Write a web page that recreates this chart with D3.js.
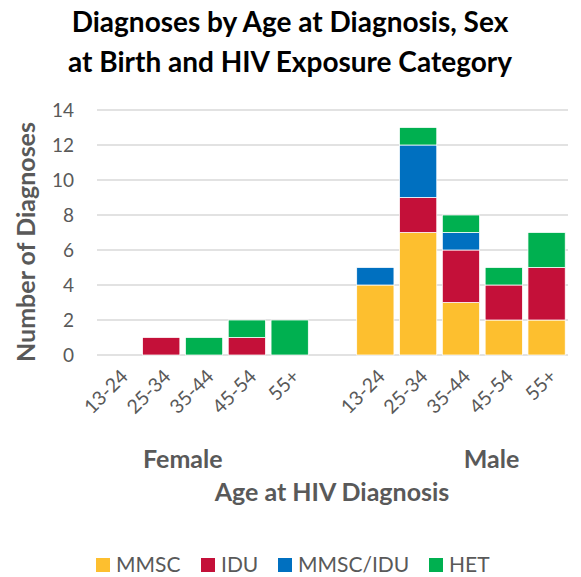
<!DOCTYPE html>
<html>
<head>
<meta charset="utf-8">
<script src="https://cdn.jsdelivr.net/npm/d3@7"></script>
<style>
  body { margin: 0; background: #fff; }
  svg text { font-family: "Lato", "Open Sans", sans-serif; }
</style>
</head>
<body>
<div id="chart"></div>
<script>
// chart data
var sexes = ["Female", "Male"];
var ageGroups = ["13-24", "25-34", "35-44", "45-54", "55+"];
var categories = ["MMSC", "IDU", "MMSC/IDU", "HET"];
var colors = ["#FDBF2F", "#C41039", "#0070C0", "#00B050"];

// values per sex, one row per age group: [MMSC, IDU, MMSC/IDU, HET]
var femaleValues = [
  [0, 0, 0, 0],
  [0, 1, 0, 0],
  [0, 0, 0, 1],
  [0, 1, 0, 1],
  [0, 0, 0, 2]
];
var maleValues = [
  [4, 0, 1, 0],
  [7, 2, 3, 1],
  [3, 3, 1, 1],
  [2, 2, 0, 1],
  [2, 3, 0, 2]
];
var yTicks = [0, 2, 4, 6, 8, 10, 12, 14];

var svgWidth = 581, svgHeight = 577;
var margin = {top: 110, right: 13, bottom: 222, left: 97};
var width = svgWidth - margin.left - margin.right;
var height = 355 - margin.top;

var svg = d3.select("#chart").append("svg")
  .attr("width", svgWidth)
  .attr("height", svgHeight);

// build rows for the stack (a blank slot sits between the two groups)
var rows = [];
[femaleValues, maleValues].forEach(function(vals, s) {
  vals.forEach(function(v, i) {
    var row = {key: sexes[s] + "|" + ageGroups[i], age: ageGroups[i], sex: sexes[s]};
    categories.forEach(function(c, j) { row[c] = v[j]; });
    rows.push(row);
  });
});
var domain = rows.slice(0, 5).map(d => d.key).concat(["gap"]).concat(rows.slice(5).map(d => d.key));

var x = d3.scaleBand()
  .domain(domain)
  .range([0, width])
  .paddingInner(0.13)
  .paddingOuter(0.065);

var y = d3.scaleLinear()
  .domain([0, 14])
  .range([height, 0]);

var color = d3.scaleOrdinal().domain(categories).range(colors);

var chartGroup = svg.append("g")
  .attr("transform", `translate(${margin.left}, ${margin.top})`);

// gridlines
chartGroup.append("g")
  .selectAll("line")
  .data(yTicks)
  .enter()
  .append("line")
  .attr("x1", 0)
  .attr("x2", width)
  .attr("y1", d => y(d))
  .attr("y2", d => y(d))
  .attr("stroke", "#D9D9D9")
  .attr("stroke-width", 1.5);

// y axis labels
var leftAxis = d3.axisLeft(y).tickValues(yTicks).tickSize(0).tickPadding(23);
var yAxis = chartGroup.append("g").call(leftAxis);
yAxis.select(".domain").remove();
yAxis.selectAll("text")
  .attr("fill", "#595959")
  .style("font-size", "19px");

// stacked bars
var series = d3.stack().keys(categories)(rows);

chartGroup.append("g")
  .selectAll("g")
  .data(series)
  .enter()
  .append("g")
  .attr("fill", d => color(d.key))
  .selectAll("rect")
  .data(d => d.filter(p => p[1] > p[0]))
  .enter()
  .append("rect")
  .attr("x", d => x(d.data.key))
  .attr("width", x.bandwidth())
  .attr("y", d => y(d[1]))
  .attr("height", d => y(d[0]) - y(d[1]))
  .attr("stroke", "#fff")
  .attr("stroke-width", 0.75);

// age tick labels
chartGroup.append("g")
  .selectAll("text")
  .data(rows)
  .enter()
  .append("text")
  .attr("transform", d => `translate(${x(d.key) + x.bandwidth() / 2 + 6}, ${height + 18}) rotate(-45)`)
  .attr("text-anchor", "end")
  .attr("dy", "0.35em")
  .attr("fill", "#595959")
  .style("font-size", "19.5px")
  .text(d => d.age);

// sex group labels
var groupX = [
  x(sexes[0] + "|" + ageGroups[1]) + x.bandwidth() + x.step() * 0.07,
  x(sexes[1] + "|" + ageGroups[2]) + x.step() * 1.15
];
chartGroup.append("g")
  .selectAll("text")
  .data(sexes)
  .enter()
  .append("text")
  .attr("x", (d, i) => groupX[i])
  .attr("y", 468 - margin.top)
  .attr("text-anchor", "middle")
  .attr("fill", "#595959")
  .style("font-size", "25px")
  .style("font-weight", "bold")
  .text(d => d);

// x axis title
svg.append("text")
  .attr("x", 332)
  .attr("y", 501)
  .attr("text-anchor", "middle")
  .attr("fill", "#595959")
  .style("font-size", "25px")
  .style("font-weight", "bold")
  .text("Age at HIV Diagnosis");

// y axis title
svg.append("text")
  .attr("transform", "translate(35, 242) rotate(-90)")
  .attr("text-anchor", "middle")
  .attr("fill", "#595959")
  .style("font-size", "25px")
  .style("font-weight", "bold")
  .text("Number of Diagnoses");

// chart title
var titleLines = ["Diagnoses by Age at Diagnosis, Sex", "at Birth and HIV Exposure Category"];
svg.append("g")
  .selectAll("text")
  .data(titleLines)
  .enter()
  .append("text")
  .attr("x", 290)
  .attr("y", (d, i) => 32 + i * 40)
  .attr("text-anchor", "middle")
  .attr("fill", "#000")
  .style("font-size", "28px")
  .style("font-weight", "bold")
  .text(d => d);

// legend
var legendX = [96, 201, 278, 429];
var legend = svg.append("g")
  .selectAll("g")
  .data(categories)
  .enter()
  .append("g")
  .attr("transform", (d, i) => `translate(${legendX[i]}, 558)`);

legend.append("rect")
  .attr("width", 14)
  .attr("height", 14)
  .attr("fill", d => color(d));

legend.append("text")
  .attr("x", 20)
  .attr("y", 14)
  .attr("fill", "#595959")
  .style("font-size", "21px")
  .text(d => d);
</script>
</body>
</html>
